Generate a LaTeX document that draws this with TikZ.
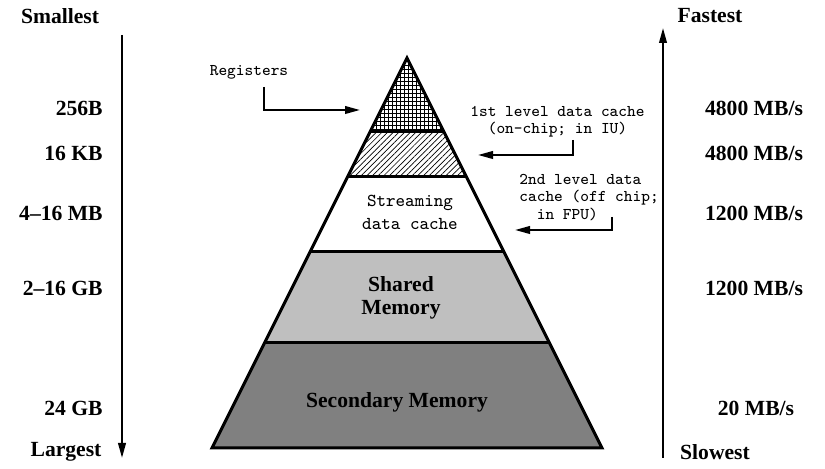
\documentclass[tikz,border=0pt]{standalone}
\usepackage{fontspec}
\setmainfont{Liberation Serif}
\usetikzlibrary{arrows.meta,patterns.meta}
\tikzset{
  lbl/.style={font=\fontsize{10.8}{11.5}\selectfont\bfseries, inner sep=0pt},
  code/.style={font=\fontsize{8.2}{8.75}\selectfont\ttfamily, align=left, inner sep=0pt},
  ptr/.style={line width=1pt, -{Triangle[length=7.5pt,width=3.8pt]}},
  edge/.style={line width=1.5pt},
}

\begin{document}
\begin{tikzpicture}[x=0.5pt,y=-0.5pt]
  \useasboundingbox (0,0) rectangle (825,469);
  %%%%% pyramid %%%%%
  \fill[pattern={Hatch[angle=0,distance=2pt,line width=0.35pt]}] (407,58) -- (444,132) -- (370,132) -- cycle;
  \fill[pattern={Lines[angle=45,distance=2pt,line width=0.35pt]}] (370,132) -- (444,132) -- (466.5,177) -- (347.5,177) -- cycle;
  \fill[white] (347.5,177) -- (466.5,177) -- (504,252) -- (310,252) -- cycle;
  \fill[black!25] (310,252) -- (504,252) -- (549.5,343) -- (264.5,343) -- cycle;
  \fill[black!50] (264.5,343) -- (549.5,343) -- (602,448) -- (212,448) -- cycle;

  \draw[edge, line join=miter] (407,58) -- (602,448) -- (212,448) -- cycle;
  \draw[edge] (370,132) -- (444,132);
  \draw[edge] (347.5,177) -- (466.5,177);
  \draw[edge] (310,252) -- (504,252);
  \draw[edge] (264.5,343) -- (549.5,343);

  \node[code, font=\fontsize{9.1}{11.5}\selectfont\ttfamily, align=center] (stream) at (410,212.5) {Streaming\\data cache};
  \node[lbl, align=center] (shared) at (401,297.5) {Shared\\Memory};
  \node[lbl] (second) at (397,402) {Secondary Memory};

  %%%%% cache labels %%%%%
  \node[code] (regs) at (249,72) {Registers};
  \coordinate (regA) at (264,87);
  \coordinate (regB) at (360,110);
  \draw[ptr] (regA) |- (regB);

  \node[code, anchor=west] (lone) at (470,121.5) {1st level data cache\\\ \ (on-chip; in IU)};
  \coordinate (loneA) at (573,140);
  \coordinate (loneB) at (478,155);
  \draw[ptr] (loneA) |- (loneB);

  \node[code, anchor=west] (ltwo) at (519,197.5) {2nd level data\\cache (off chip;\\\ \ in FPU)};
  \coordinate (ltwoA) at (612,217);
  \coordinate (ltwoB) at (515,230);
  \draw[ptr] (ltwoA) |- (ltwoB);

  %%%%% size axis %%%%%
  \coordinate (sztop) at (122,35);
  \coordinate (szbot) at (122,458);
  \draw[ptr] (sztop) -- (szbot);
  \node[lbl] (smallest) at (60,16) {Smallest};
  \node[lbl] (largest) at (66,452) {Largest};
  \node[lbl, anchor=east] (sza) at (103,108) {256B};
  \node[lbl, anchor=east] (szb) at (103,153) {16 KB};
  \node[lbl, anchor=east] (szc) at (103,213) {4--16 MB};
  \node[lbl, anchor=east] (szd) at (103,288) {2--16 GB};
  \node[lbl, anchor=east] (sze) at (103,408) {24 GB};

  %%%%% speed axis %%%%%
  \coordinate (spbot) at (663,458);
  \coordinate (sptop) at (663,28);
  \draw[ptr] (spbot) -- (sptop);
  \node[lbl] (fastest) at (710,16) {Fastest};
  \node[lbl] (slowest) at (715,452) {Slowest};
  \node[lbl] (spa) at (754,108) {4800 MB/s};
  \node[lbl] (spb) at (754,153) {4800 MB/s};
  \node[lbl] (spc) at (754,213) {1200 MB/s};
  \node[lbl] (spd) at (754,288) {1200 MB/s};
  \node[lbl] (spe) at (756,408) {20 MB/s};
\end{tikzpicture}
\end{document}
